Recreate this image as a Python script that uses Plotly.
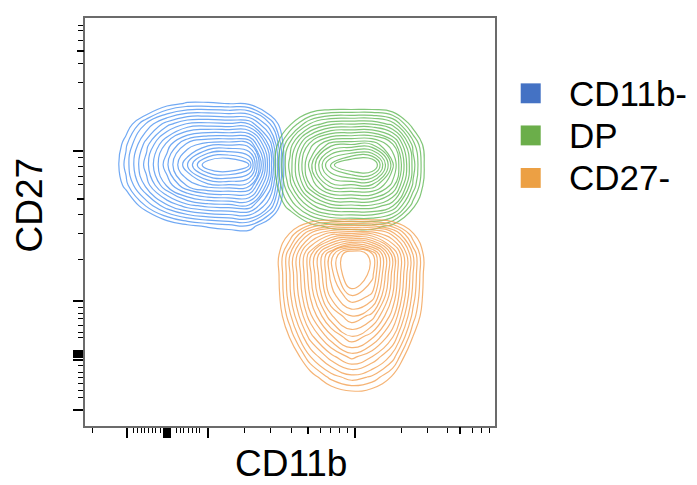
import plotly.graph_objects as go

# Populations (legend order) and their colours
POPULATIONS = ["CD11b-", "DP", "CD27-"]
LEGEND_COLORS = ["#4472C4", "#6BAE4A", "#ECA044"]
LINE_COLORS = ["rgba(78,148,240,0.8)", "rgba(98,184,86,0.8)", "rgba(242,160,82,0.8)"]

# Estimated density grids (axis units 0-100, biexponential display scale)
BLUE_X = [5, 10, 15, 20, 25, 30, 35, 40, 45, 50, 55]
BLUE_Y = [44, 49, 54, 59, 64, 69, 74, 79, 84]
BLUE_Z = [
    [-10, -10, -10, -10, -10, -10, -10, -10, -10, -10, -10],
    [-10, -10, -12, -2, 3, 6, 8, 9, -3, -10, -10],
    [-10, -5, 11, 24, 33, 37, 38, 39, 20, -10, -10],
    [-10, 8, 27, 46, 61, 68, 69, 67, 34, -10, -10],
    [-8, 12, 33, 54, 75, 96, 100, 90, 40, -10, -10],
    [-10, 9, 28, 47, 62, 68, 69, 67, 34, -10, -10],
    [-10, 0, 16, 28, 36, 37, 36, 35, 16, -10, -10],
    [-10, -10, -8, 2, 6, 6, 5, 4, -8, -10, -10],
    [-10, -10, -10, -10, -10, -10, -10, -10, -10, -10, -10],
]

GREEN_X = [40, 45, 50, 55, 60, 65, 70, 75, 80, 85, 90]
GREEN_Y = [44, 49, 54, 59, 64, 69, 74, 79, 84]
GREEN_Z = [
    [-10, -10, -10, -10, -10, -10, -10, -10, -10, -10, -10],
    [-10, -10, -11, 2, 7, 8, 8, 3, -10, -10, -10],
    [-10, -10, 10, 28, 38, 39, 39, 31, 7, -10, -10],
    [-10, -6, 23, 50, 68, 69, 69, 53, 19, -10, -10],
    [-10, -3, 27, 58, 88, 100, 100, 62, 23, -10, -10],
    [-10, -6, 22, 48, 63, 65, 65, 51, 18, -10, -10],
    [-10, -10, 4, 21, 29, 30, 30, 23, 1, -10, -10],
    [-10, -10, -10, -7, -5, -5, -5, -7, -10, -10, -10],
    [-10, -10, -10, -10, -10, -10, -10, -10, -10, -10, -10],
]

ORANGE_X = [40, 45, 50, 55, 60, 65, 70, 75, 80, 85, 90]
ORANGE_Y = [2, 7, 12, 17, 22, 27, 32, 37, 42, 47, 52]
ORANGE_Z = [
    [-10, -10, -10, -10, -10, -10, -10, -10, -10, -10, -10],
    [-10, -10, -10, -10, -4, -1, -2, -10, -10, -10, -10],
    [-10, -10, -10, 1, 12, 18, 14, 4, -10, -10, -10],
    [-10, -10, -4, 15, 28, 37, 30, 18, -5, -10, -10],
    [-10, -10, 6, 28, 44, 55, 47, 31, 5, -10, -10],
    [-10, -10, 14, 39, 59, 70, 63, 42, 13, -10, -10],
    [-10, -9, 19, 46, 72, 85, 79, 50, 18, -10, -10],
    [-10, -8, 20, 49, 77, 100, 87, 53, 20, -10, -10],
    [-10, -8, 20, 49, 77, 100, 87, 53, 20, -10, -10],
    [-10, -10, 6, 27, 39, 42, 41, 29, 6, -10, -10],
    [-10, -10, -10, -10, -10, -10, -10, -10, -10, -10, -10],
]

# Biexponential tick positions (axis units)
X_MAJOR = [10.2, 19.3, 19.8, 20.2, 20.7, 30.1, 65.9]
X_MEDIUM = [54.3, 91.4]
X_MINOR = [1.9, 11.8, 12.8, 13.7, 14.6, 15.4, 16.4, 17.3, 18.3, 22.4, 23.3, 24.1,
           25.2, 26.2, 27.1, 28.0, 39.0, 45.3, 50.4, 57.5, 59.8, 62.0, 64.0,
           77.2, 83.6, 88.4, 94.6, 96.8, 98.6]
Y_MAJOR = [3.9, 16.3, 16.8, 17.3, 17.8, 18.3, 30.7, 67.3]
Y_MEDIUM = [55.7, 91.9]
Y_MINOR = [7.1, 8.8, 10.4, 12.0, 13.2, 14.9, 21.8, 23.0, 24.6, 26.3, 27.5, 29.1,
           40.7, 47.1, 51.9, 59.2, 61.2, 63.7, 65.7, 77.9, 84.2, 88.9, 94.6,
           97.0, 98.2]

FONT = "Liberation Sans, Arial, sans-serif"

fig = go.Figure()

grids = [(BLUE_X, BLUE_Y, BLUE_Z), (GREEN_X, GREEN_Y, GREEN_Z), (ORANGE_X, ORANGE_Y, ORANGE_Z)]
for (gx, gy, gz), name, color in zip(grids, POPULATIONS, LINE_COLORS):
    fig.add_trace(go.Contour(
        x=gx, y=gy, z=gz,
        name=name,
        contours=dict(coloring="lines", start=5, end=90, size=5),
        line=dict(width=1.2, smoothing=1.3),
        colorscale=[[0, color], [1, color]],
        showscale=False,
        hoverinfo="skip",
    ))

# dummy trace on the overlay axes that carry the medium ticks
fig.add_trace(go.Scatter(x=[None], y=[None], xaxis="x2", yaxis="y2",
                         showlegend=False, hoverinfo="skip"))

# legend drawn by hand: squares + labels
legend_y = [0.8154, 0.7122, 0.6080]
for name, color, yc in zip(POPULATIONS, LEGEND_COLORS, legend_y):
    fig.add_shape(type="rect", xref="paper", yref="paper",
                  x0=1.0627, x1=1.1115, y0=yc - 0.0244, y1=yc + 0.0244,
                  fillcolor=color, line=dict(width=0))
    fig.add_annotation(x=1.1749, y=yc, xref="paper", yref="paper",
                       text=name, showarrow=False, xanchor="left", yanchor="middle",
                       font=dict(size=35, color="black", family=FONT))

# axis titles
fig.add_annotation(x=0.502, y=-0.0927, xref="paper", yref="paper", text="CD11b",
                   showarrow=False, xanchor="center", yanchor="middle",
                   font=dict(size=37, color="black", family=FONT))
fig.add_annotation(x=-0.1366, y=0.543, xref="paper", yref="paper", text="CD27",
                   showarrow=False, textangle=-90, xanchor="center", yanchor="middle",
                   font=dict(size=37, color="black", family=FONT))

axis_common = dict(
    range=[0, 100],
    showgrid=False,
    zeroline=False,
    showticklabels=False,
    ticks="outside",
    tickcolor="black",
)

# page body adds an 8px offset, so the figure is 8px smaller on each side
fig.update_layout(
    width=689,
    height=477,
    margin=dict(l=77, r=202, t=8, b=59),
    paper_bgcolor="white",
    plot_bgcolor="white",
    showlegend=False,
    xaxis=dict(
        **axis_common,
        tickmode="array", tickvals=X_MAJOR, ticklen=10, tickwidth=2,
        showline=True, mirror=True, linecolor="#6b6b6b", linewidth=1.5,
        minor=dict(tickmode="array", tickvals=X_MINOR, ticks="outside",
                   ticklen=5, tickwidth=1, tickcolor="black", showgrid=False),
    ),
    yaxis=dict(
        **axis_common,
        tickmode="array", tickvals=Y_MAJOR, ticklen=10, tickwidth=2,
        showline=True, mirror=True, linecolor="#6b6b6b", linewidth=1.5,
        minor=dict(tickmode="array", tickvals=Y_MINOR, ticks="outside",
                   ticklen=5, tickwidth=1, tickcolor="black", showgrid=False),
    ),
    xaxis2=dict(
        **axis_common,
        overlaying="x", anchor="y", side="bottom", showline=False,
        tickmode="array", tickvals=X_MEDIUM, ticklen=7, tickwidth=1.5,
    ),
    yaxis2=dict(
        **axis_common,
        overlaying="y", anchor="x", side="left", showline=False,
        tickmode="array", tickvals=Y_MEDIUM, ticklen=7, tickwidth=1.5,
    ),
)

fig.write_html("out.html")
